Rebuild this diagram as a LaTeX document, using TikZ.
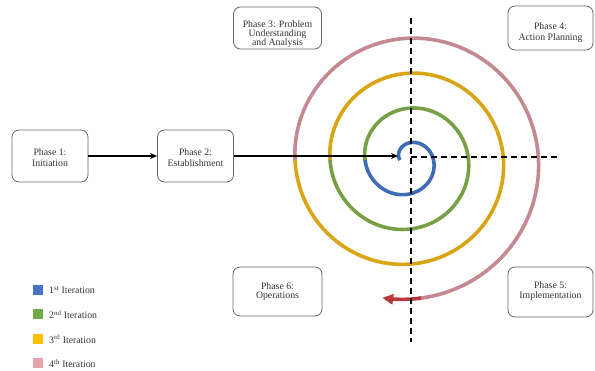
\documentclass[tikz,border=0pt]{standalone}
\usepackage{fontspec}
\setmainfont{Liberation Serif}
\usetikzlibrary{arrows.meta}
\definecolor{sblue}{HTML}{3E6DB5}
\definecolor{sgreen}{HTML}{76A043}
\definecolor{sgold}{HTML}{D9A514}
\definecolor{spink}{HTML}{C48990}
\definecolor{sred}{HTML}{B8383C}
\definecolor{lblue}{HTML}{4472C4}
\definecolor{lgreen}{HTML}{70AD47}
\definecolor{lgold}{HTML}{FFC000}
\definecolor{lpink}{HTML}{E8A2AC}
\begin{document}
\begin{tikzpicture}[x=1pt,y=-1pt,
  phase/.style={draw=black!60, line width=0.8pt, rounded corners=7pt, inner sep=0pt},
  ptext/.style={align=center, text=black!80, inner sep=0pt, font=\fontsize{9.8}{11}\selectfont},
  conn/.style={draw=black, line width=1.3pt, -{Stealth[length=7pt,width=6pt]}},
  axisline/.style={draw=black, line width=1.6pt, dash pattern=on 6pt off 4pt},
  spiral/.style={line width=3.6pt, samples=120},
  legsq/.style={minimum size=10pt, inner sep=0pt},
  legtx/.style={anchor=west, font=\fontsize{9.8}{11}\selectfont, text=black!80, inner sep=0pt}]
\useasboundingbox (0,0) rectangle (595,371);

% spiral
\draw[spiral, sblue]  plot[domain=0:1.01] ({408+(8+35*\x)*cos(180-360*\x)}, {160-(8+35*\x)*sin(180-360*\x)});
\draw[spiral, sgreen] plot[domain=1:2.01] ({408+(8+35*\x)*cos(180-360*\x)}, {160-(8+35*\x)*sin(180-360*\x)});
\draw[spiral, sgold]  plot[domain=2:3.01] ({408+(8+35*\x)*cos(180-360*\x)}, {160-(8+35*\x)*sin(180-360*\x)});
\draw[spiral, spink]  plot[domain=3:3.74] ({408+(8+35*\x)*cos(180-360*\x)}, {160-(8+35*\x)*sin(180-360*\x)});
\draw[spiral, sred, -{Triangle[length=11pt,width=10pt]}, line cap=butt]
  plot[domain=3.735:3.7795, samples=12] ({408+(8+35*\x)*cos(180-360*\x)}, {160-(8+35*\x)*sin(180-360*\x)});

% axes
\coordinate (vtop) at (411,18);
\coordinate (vbot) at (411,342);
\coordinate (hl) at (411,157);
\coordinate (hr) at (558,157);
\draw[axisline] (vtop) -- (vbot);
\draw[axisline] (hl) -- (hr);

% phases (boxes)
\node[phase, minimum width=76pt, minimum height=52pt] (p1) at (50,156) {};
\node[phase, minimum width=76pt, minimum height=52pt] (p2) at (195.5,156) {};
\node[phase, minimum width=88pt, minimum height=42pt] (p3) at (277.5,28) {};
\node[phase, minimum width=85pt, minimum height=44pt] (p4) at (550.5,28) {};
\node[phase, minimum width=85pt, minimum height=50pt] (p5) at (550.5,292) {};
\node[phase, minimum width=89pt, minimum height=49pt] (p6) at (277.5,291.5) {};
% phase texts
\node[ptext] (p1t) at (50,158) {Phase 1:\\Initiation};
\node[ptext] (p2t) at (195.5,158) {Phase 2:\\Establishment};
\node[ptext, font=\fontsize{9.8}{9}\selectfont] (p3t) at (277.5,34) {Phase 3: Problem\\Understanding\\and Analysis};
\node[ptext] (p4t) at (550.5,33) {Phase 4:\\Action Planning};
\node[ptext, font=\fontsize{9.8}{9.5}\selectfont] (p5t) at (550.5,291) {Phase 5:\\Implementation};
\node[ptext, font=\fontsize{9.8}{9}\selectfont] (p6t) at (277.5,292) {Phase 6:\\Operations};

\coordinate (sstart) at (398,156);
\draw[conn] (p1) -- (p2);
\draw[conn] (p2) -- (sstart);

% legend
\node[legsq, fill=lblue]  (s1) at (38,290) {};
\node[legsq, fill=lgreen] (s2) at (38,314.5) {};
\node[legsq, fill=lgold]  (s3) at (38,339) {};
\node[legsq, fill=lpink]  (s4) at (38,363.5) {};
\node[legtx] (t1) at (49,290) {1\textsuperscript{st} Iteration};
\node[legtx] (t2) at (49,314.5) {2\textsuperscript{nd} Iteration};
\node[legtx] (t3) at (49,339) {3\textsuperscript{rd} Iteration};
\node[legtx] (t4) at (49,363.5) {4\textsuperscript{th} Iteration};
\end{tikzpicture}
\end{document}
